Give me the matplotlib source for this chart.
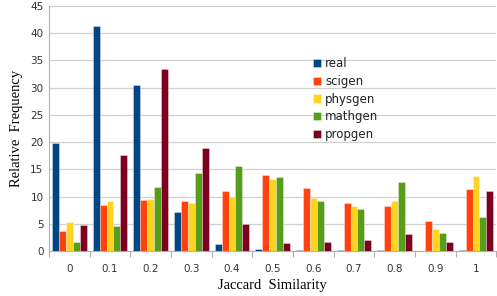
import numpy as np
import matplotlib
matplotlib.use("Agg")
import matplotlib.pyplot as plt

categories = ["0", "0.1", "0.2", "0.3", "0.4", "0.5", "0.6", "0.7", "0.8", "0.9", "1"]
real = [19.8, 41.3, 30.4, 7.1, 1.2, 0.3, 0.1, 0.1, 0.1, 0.0, 0.2]
scigen = [3.7, 8.4, 9.4, 9.1, 11.0, 13.9, 11.6, 8.8, 8.2, 5.6, 11.4]
physgen = [5.4, 9.1, 9.5, 8.8, 10.0, 13.3, 9.8, 8.2, 9.1, 4.1, 13.8]
mathgen = [1.6, 4.5, 11.8, 14.3, 15.6, 13.6, 9.1, 7.8, 12.7, 3.3, 6.3]
propgen = [4.75, 17.6, 33.4, 18.9, 5.0, 1.5, 1.7, 2.0, 3.1, 1.6, 11.1]

series = [("real", real, "#004586"), ("scigen", scigen, "#ff420e"),
          ("physgen", physgen, "#ffd320"), ("mathgen", mathgen, "#579d1c"),
          ("propgen", propgen, "#7e0021")]

fig = plt.figure(figsize=(4.97, 2.96), dpi=100)
ax = fig.add_axes([0.0986, 0.152, 0.9, 0.828])

x = np.arange(len(categories))
w = 0.17
for k, (name, vals, col) in enumerate(series):
    ax.bar(x + (k - 2) * w, vals, width=w, color=col, label=name,
           edgecolor=(1, 1, 1, 0.6), linewidth=0.4, zorder=3)

ax.set_xlim(-0.5, len(categories) - 0.5)
ax.set_ylim(0, 45)
ax.set_yticks(np.arange(0, 46, 5))
ax.yaxis.grid(True, color="#d0d0d0", linewidth=0.9, zorder=0)
ax.set_xticks(x)
ax.set_xticklabels(categories)
ax.set_xticks(np.arange(-0.5, len(categories), 1.0), minor=True)
ax.tick_params(axis="x", which="major", length=0, pad=9, labelsize=7.5, labelcolor="#333333")
ax.tick_params(axis="x", which="minor", length=4, color="#b0b0b0", width=0.8)
ax.tick_params(axis="y", length=0, pad=4, labelsize=7.5, labelcolor="#333333")

for s in ["top", "right"]:
    ax.spines[s].set_visible(False)
ax.spines["left"].set_color("#b0b0b0")
ax.spines["bottom"].set_color("#b0b0b0")

ax.set_xlabel("Jaccard  Similarity", family="Liberation Serif", fontsize=10.5, labelpad=4)
ax.set_ylabel("Relative  Frequency", family="Liberation Serif", fontsize=10.5, labelpad=5)

leg = ax.legend(loc="upper left", bbox_to_anchor=(0.58, 0.81), frameon=False,
                fontsize=8.5, handlelength=0.7, handleheight=0.7, handletextpad=0.3,
                labelspacing=0.4, borderaxespad=0)
for t in leg.get_texts():
    t.set_color("#222222")

fig.savefig("out.png", dpi=100)
